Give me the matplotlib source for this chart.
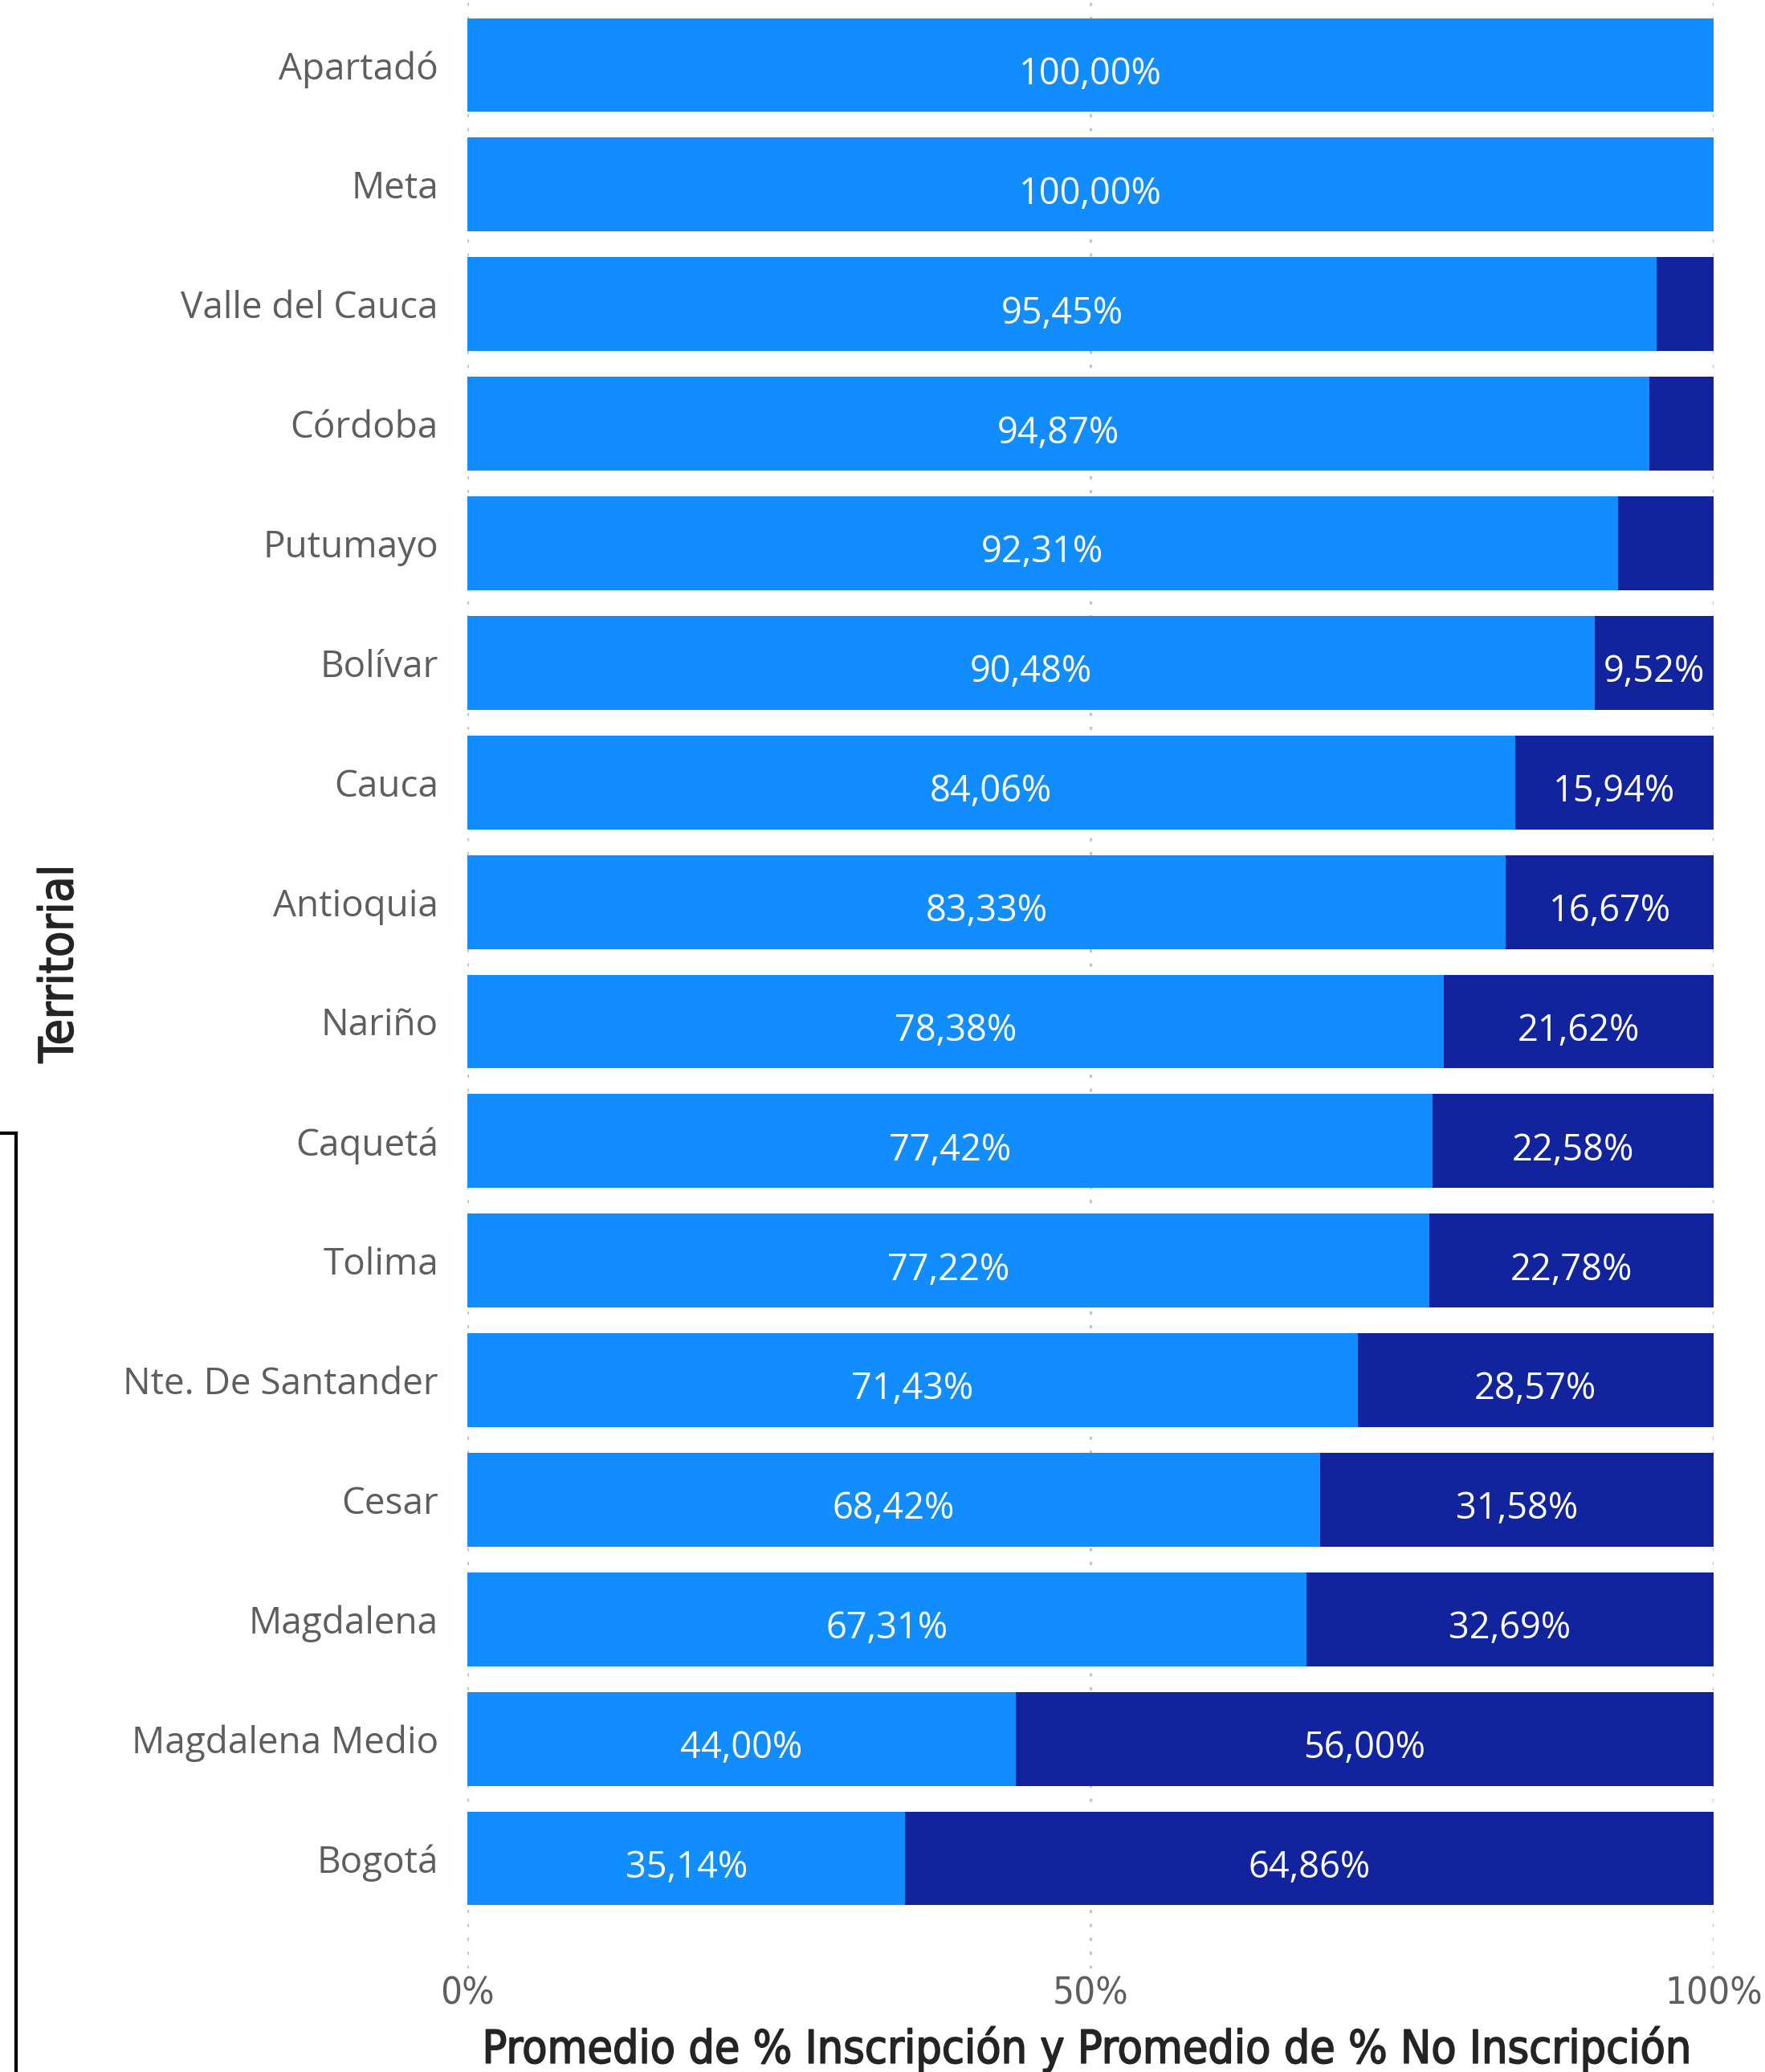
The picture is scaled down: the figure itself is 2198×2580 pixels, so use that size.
import matplotlib.pyplot as plt
import matplotlib.patheffects as pe
from matplotlib.lines import Line2D

# datos
territorios = ["Apartadó", "Meta", "Valle del Cauca", "Córdoba", "Putumayo", "Bolívar",
               "Cauca", "Antioquia", "Nariño", "Caquetá", "Tolima", "Nte. De Santander",
               "Cesar", "Magdalena", "Magdalena Medio", "Bogotá"]
inscripcion = [100.00, 100.00, 95.45, 94.87, 92.31, 90.48, 84.06, 83.33, 78.38, 77.42,
               77.22, 71.43, 68.42, 67.31, 44.00, 35.14]
no_inscripcion = [0.00, 0.00, 4.55, 5.13, 7.69, 9.52, 15.94, 16.67, 21.62, 22.58,
                  22.78, 28.57, 31.58, 32.69, 56.00, 64.86]

C_INS = "#118DFF"
C_NO = "#12239E"
TXT = "#605E5C"
TITLE = "#252423"
LABEL_FONT = ["Open Sans", "DejaVu Sans"]

fig = plt.figure(figsize=(21.98, 25.8), dpi=100)
ax = fig.add_axes([582 / 2198, 129 / 2580, (2134 - 582) / 2198, 1 - 129 / 2580])

y = list(range(len(territorios)))
ax.barh(y, inscripcion, height=0.785, color=C_INS, zorder=2)
ax.barh(y, no_inscripcion, left=inscripcion, height=0.785, color=C_NO, zorder=2)

def fmt(v):
    return f"{v:.2f}%".replace(".", ",")

for i in y:
    a, b = inscripcion[i], no_inscripcion[i]
    ax.text(a / 2, i + 0.08, fmt(a), ha="center", va="center", color="white",
            fontsize=32.5, family=LABEL_FONT, zorder=3)
    if b >= 9:
        ax.text(a + b / 2, i + 0.08, fmt(b), ha="center", va="center", color="white",
                fontsize=32.5, family=LABEL_FONT, zorder=3)

ax.set_xlim(0, 100)
ax.set_ylim(15.92, -0.544)
ax.set_yticks(y)
ax.set_yticklabels(territorios, fontsize=33, color=TXT, family=LABEL_FONT)
ax.set_xticks([0, 50, 100])
ax.set_xticklabels(["0%", "50%", "100%"], fontsize=34, color=TXT,
                   family="DejaVu Sans", fontstretch="condensed")
ax.tick_params(axis="y", length=0, pad=26)
ax.tick_params(axis="x", length=0, pad=7)
for s in ax.spines.values():
    s.set_visible(False)
ax.grid(axis="x", color="#C8C6C4", linestyle=(0, (1.2, 4)), linewidth=2.4, zorder=1)

# titulos de ejes (un poco de trazo para dar peso medio)
grueso = [pe.withStroke(linewidth=1.2, foreground=TITLE)]
fig.text(1355 / 2198, 1 - 2552 / 2580, "Promedio de % Inscripción y Promedio de % No Inscripción",
         ha="center", va="center", fontsize=41, color=TITLE,
         family="DejaVu Sans", fontstretch="condensed", path_effects=grueso)
fig.text(74 / 2198, 1 - 1200 / 2580, "Territorial", rotation=90, ha="center", va="center",
         fontsize=42, color=TITLE, family="DejaVu Sans", fontstretch="condensed",
         path_effects=grueso)

# corchete negro a la izquierda
fig.add_artist(Line2D([20 / 2198, 20 / 2198], [1 - 1411 / 2580, 0], color="black", linewidth=3))
fig.add_artist(Line2D([0, 20 / 2198], [1 - 1411 / 2580, 1 - 1411 / 2580], color="black", linewidth=3))

fig.savefig("out.png", dpi=100)
